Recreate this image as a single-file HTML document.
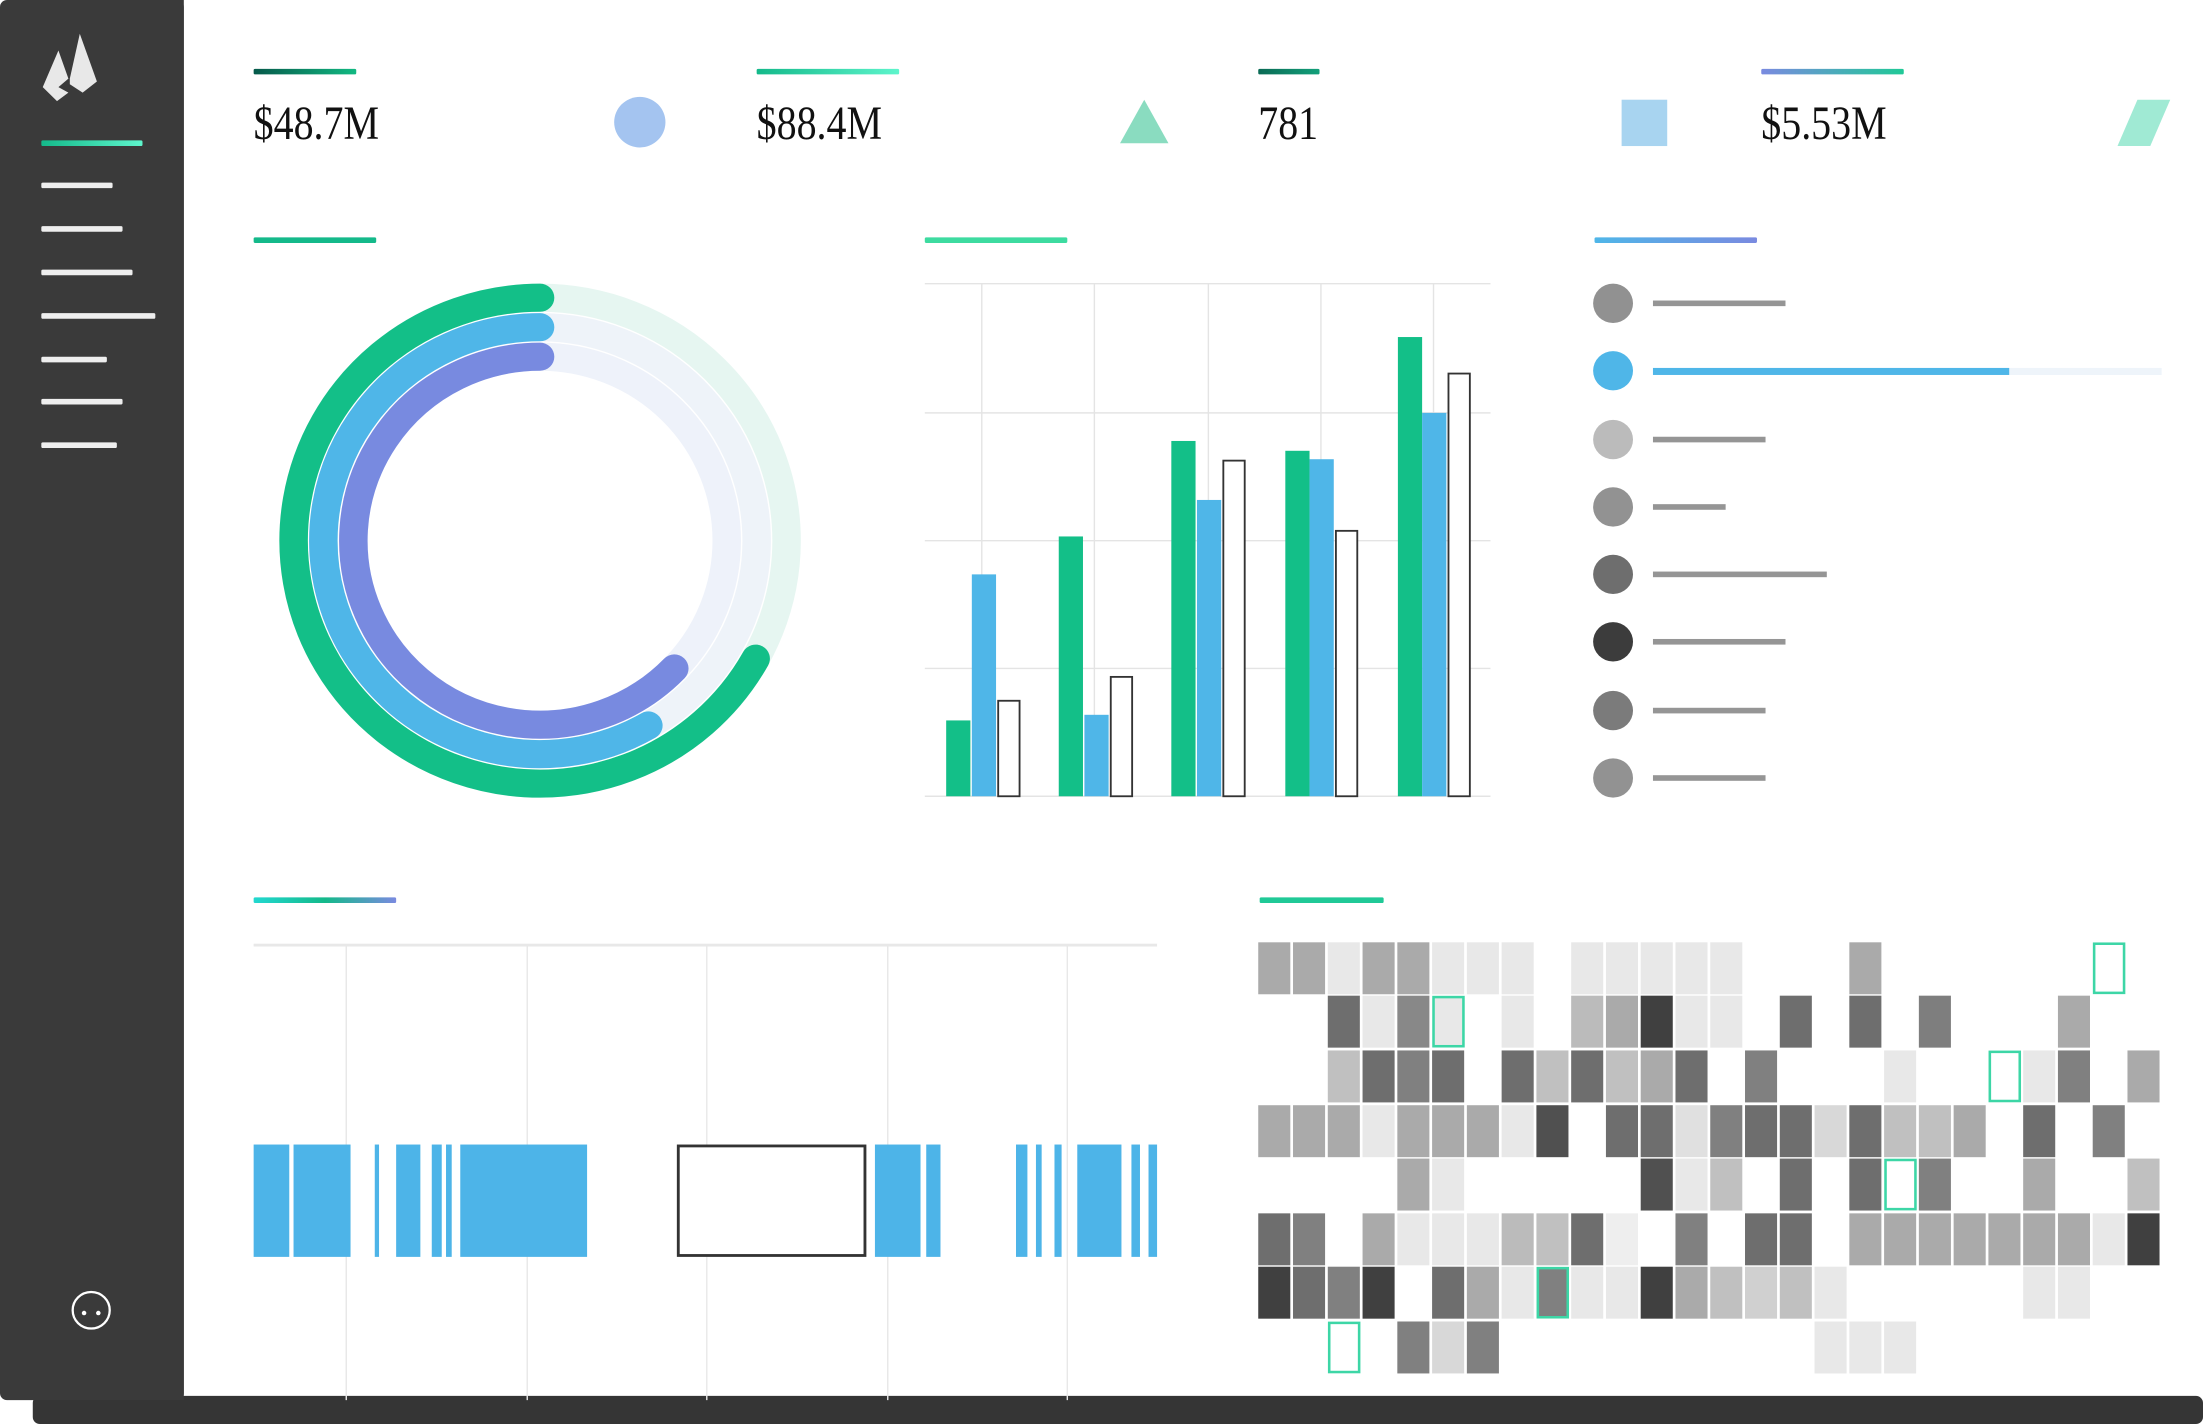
<!DOCTYPE html>
<html><head><meta charset="utf-8"><style>html,body{margin:0;padding:0;background:#fff;overflow:hidden}svg{display:block}</style></head><body>
<svg width="2203" height="1424" viewBox="0 0 1546 1014" preserveAspectRatio="none" xmlns="http://www.w3.org/2000/svg">
<defs>
<linearGradient id="g1"><stop offset="0" stop-color="#06594a"/><stop offset="1" stop-color="#12b982"/></linearGradient>
<linearGradient id="g2"><stop offset="0" stop-color="#14b98a"/><stop offset="1" stop-color="#5ef5cc"/></linearGradient>
<linearGradient id="g3"><stop offset="0" stop-color="#0a6a55"/><stop offset="1" stop-color="#13a07a"/></linearGradient>
<linearGradient id="g4"><stop offset="0" stop-color="#7a8ae0"/><stop offset="1" stop-color="#20c997"/></linearGradient>
<linearGradient id="g5"><stop offset="0" stop-color="#4fb6e8"/><stop offset="1" stop-color="#7a8ae0"/></linearGradient>
<linearGradient id="g6"><stop offset="0" stop-color="#22d8d0"/><stop offset="0.5" stop-color="#14b98a"/><stop offset="1" stop-color="#7a8ae0"/></linearGradient>
</defs>
<rect x="23" y="994" width="1523" height="20" rx="5" fill="#353535"/>
<rect x="0" y="0" width="129" height="997" rx="5" fill="#3a3a3a"/>
<rect x="120" y="0" width="9" height="997" fill="#3a3a3a"/>
<polygon points="30,62 41,36 48,56 41,62 48,66 40,72" fill="#e8e8e8"/>
<polygon points="49,56 56,24 68,58 58,66 49,60" fill="#e8e8e8"/>
<rect x="29" y="100" width="71" height="4" rx="1" fill="url(#g2)"/>
<g fill="#eeeeee">
<rect x="29" y="130" width="50" height="4" rx="1"/><rect x="29" y="161" width="57" height="4" rx="1"/>
<rect x="29" y="192" width="64" height="4" rx="1"/><rect x="29" y="223" width="80" height="4" rx="1"/>
<rect x="29" y="254" width="46" height="4" rx="1"/><rect x="29" y="284" width="57" height="4" rx="1"/>
<rect x="29" y="315" width="53" height="4" rx="1"/></g>
<circle cx="64" cy="933" r="13" fill="none" stroke="#fff" stroke-width="1.6"/>
<circle cx="59" cy="935" r="1.6" fill="#fff"/><circle cx="69" cy="935" r="1.6" fill="#fff"/>

<rect x="178" y="49" width="72" height="4" rx="1" fill="url(#g1)"/>
<rect x="531" y="49" width="100" height="4" rx="1" fill="url(#g2)"/>
<rect x="883" y="49" width="43" height="4" rx="1" fill="url(#g3)"/>
<rect x="1236" y="49" width="100" height="4" rx="1" fill="url(#g4)"/>
<g font-family="Liberation Serif, serif" font-size="34" fill="#111">
<text x="178" y="99" textLength="88" lengthAdjust="spacingAndGlyphs">$48.7M</text>
<text x="531" y="99" textLength="88" lengthAdjust="spacingAndGlyphs">$88.4M</text>
<text x="883" y="99" textLength="42" lengthAdjust="spacingAndGlyphs">781</text>
<text x="1236" y="99" textLength="88" lengthAdjust="spacingAndGlyphs">$5.53M</text></g>
<circle cx="449" cy="87" r="18" fill="#a4c4f0"/>
<polygon points="786,102 803,71 820,102" fill="#8adcc0"/>
<rect x="1138" y="71" width="32" height="33" fill="#a8d4f0"/>
<polygon points="1486,104 1500,71 1523,71 1509,104" fill="#a0ead4"/>

<rect x="178" y="169" width="86" height="4" rx="1" fill="#14b98a"/>
<rect x="649" y="169" width="100" height="4" rx="1" fill="#3ddba0"/>
<rect x="1119" y="169" width="114" height="4" rx="1" fill="url(#g5)"/>

<g fill="none" stroke-width="20" stroke-linecap="round">
<circle cx="379" cy="385" r="173" stroke="#e6f6f1" stroke-linecap="butt"/>
<circle cx="379" cy="385" r="152" stroke="#eef3f9" stroke-linecap="butt"/>
<circle cx="379" cy="385" r="131" stroke="#eef2fa" stroke-linecap="butt"/>
<path d="M379,212 A173,173 0 1 0 530.3,469" stroke="#13bf88"/>
<path d="M379,233 A152,152 0 1 0 455,516.6" stroke="#4fb6e8"/>
<path d="M379,254 A131,131 0 1 0 473.2,476" stroke="#788ae0"/>
</g>

<g stroke="#e4e4e4" stroke-width="1">
<line x1="649" y1="202" x2="1046" y2="202"/><line x1="649" y1="294" x2="1046" y2="294"/>
<line x1="649" y1="385" x2="1046" y2="385"/><line x1="649" y1="476" x2="1046" y2="476"/>
<line x1="649" y1="567" x2="1046" y2="567"/>
<line x1="689" y1="202" x2="689" y2="567"/><line x1="768" y1="202" x2="768" y2="567"/>
<line x1="848" y1="202" x2="848" y2="567"/><line x1="927" y1="202" x2="927" y2="567"/>
<line x1="1006" y1="202" x2="1006" y2="567"/></g>
<g fill="#13bf88"><rect x="664" y="513" width="17" height="54"/><rect x="743" y="382" width="17" height="185"/><rect x="822" y="314" width="17" height="253"/><rect x="902" y="321" width="17" height="246"/><rect x="981" y="240" width="17" height="327"/></g>
<g fill="#4fb6e8"><rect x="682" y="409" width="17" height="158"/><rect x="761" y="509" width="17" height="58"/><rect x="840" y="356" width="17" height="211"/><rect x="919" y="327" width="17" height="240"/><rect x="998" y="294" width="17" height="273"/></g>
<g fill="#fff" stroke="#333" stroke-width="1.3"><rect x="700.5" y="499" width="15" height="68"/><rect x="779.5" y="482" width="15" height="85"/><rect x="858.5" y="328" width="15" height="239"/><rect x="937.5" y="378" width="15" height="189"/><rect x="1016.5" y="266" width="15" height="301"/></g>

<circle cx="1132" cy="216" r="14" fill="#919191"/><circle cx="1132" cy="264" r="14" fill="#4fb6e8"/>
<circle cx="1132" cy="313" r="14" fill="#bbbbbb"/><circle cx="1132" cy="361" r="14" fill="#929292"/>
<circle cx="1132" cy="409" r="14" fill="#6e6e6e"/><circle cx="1132" cy="457" r="14" fill="#3c3c3c"/>
<circle cx="1132" cy="506" r="14" fill="#7b7b7b"/><circle cx="1132" cy="554" r="14" fill="#929292"/>
<rect x="1160" y="262" width="357" height="5" fill="#eef4fa"/>
<rect x="1160" y="262" width="250" height="5" fill="#4fb6e8"/>
<g fill="#959595"><rect x="1160" y="214" width="93" height="4"/><rect x="1160" y="311" width="79" height="4"/><rect x="1160" y="359" width="51" height="4"/><rect x="1160" y="407" width="122" height="4"/><rect x="1160" y="455" width="93" height="4"/><rect x="1160" y="504" width="79" height="4"/><rect x="1160" y="552" width="79" height="4"/></g>

<rect x="178" y="639" width="100" height="4" rx="1" fill="url(#g6)"/>
<rect x="178" y="672" width="634" height="2" fill="#e8e8e8"/>
<g stroke="#e8e8e8" stroke-width="1"><line x1="243" y1="674" x2="243" y2="997"/><line x1="370" y1="674" x2="370" y2="997"/><line x1="496" y1="674" x2="496" y2="997"/><line x1="623" y1="674" x2="623" y2="997"/><line x1="749" y1="674" x2="749" y2="997"/></g>
<g fill="#4db4e8">
<rect x="178" y="815" width="25" height="80"/><rect x="206" y="815" width="40" height="80"/><rect x="263" y="815" width="3" height="80"/><rect x="278" y="815" width="17" height="80"/><rect x="303" y="815" width="7" height="80"/><rect x="313" y="815" width="4" height="80"/><rect x="323" y="815" width="89" height="80"/>
<rect x="614" y="815" width="32" height="80"/><rect x="650" y="815" width="10" height="80"/><rect x="713" y="815" width="8" height="80"/><rect x="727" y="815" width="4" height="80"/><rect x="740" y="815" width="5" height="80"/><rect x="756" y="815" width="31" height="80"/><rect x="794" y="815" width="6" height="80"/><rect x="806" y="815" width="6" height="80"/></g>
<rect x="476" y="816" width="131" height="78" fill="#fff" stroke="#333" stroke-width="2"/>

<rect x="884" y="639" width="87" height="4" rx="1" fill="#20c997"/>
<g>
<!-- row 0 y671 -->
<rect x="883" y="671" width="22.5" height="37" fill="#aaa"/><rect x="907.4" y="671" width="22.5" height="37" fill="#aaa"/><rect x="931.8" y="671" width="22.5" height="37" fill="#e8e8e8"/><rect x="956.2" y="671" width="22.5" height="37" fill="#aaa"/><rect x="980.6" y="671" width="22.5" height="37" fill="#aaa"/><rect x="1005" y="671" width="22.5" height="37" fill="#e8e8e8"/><rect x="1029.4" y="671" width="22.5" height="37" fill="#e8e8e8"/><rect x="1053.8" y="671" width="22.5" height="37" fill="#e8e8e8"/><rect x="1102.6" y="671" width="22.5" height="37" fill="#e8e8e8"/><rect x="1127" y="671" width="22.5" height="37" fill="#e8e8e8"/><rect x="1151.4" y="671" width="22.5" height="37" fill="#e8e8e8"/><rect x="1175.8" y="671" width="22.5" height="37" fill="#e8e8e8"/><rect x="1200.2" y="671" width="22.5" height="37" fill="#e8e8e8"/><rect x="1297.8" y="671" width="22.5" height="37" fill="#aaa"/><rect x="1469.6" y="672" width="21" height="35" fill="#fff" stroke="#3dd6a6" stroke-width="1.8"/>
<!-- row 1 y709 -->
<rect x="931.8" y="709" width="22.5" height="37" fill="#6e6e6e"/><rect x="956.2" y="709" width="22.5" height="37" fill="#e8e8e8"/><rect x="980.6" y="709" width="22.5" height="37" fill="#888"/><rect x="1006" y="710" width="21" height="35" fill="#e8e8e8" stroke="#3dd6a6" stroke-width="1.8"/><rect x="1053.8" y="709" width="22.5" height="37" fill="#e8e8e8"/><rect x="1102.6" y="709" width="22.5" height="37" fill="#bbb"/><rect x="1127" y="709" width="22.5" height="37" fill="#aaa"/><rect x="1151.4" y="709" width="22.5" height="37" fill="#404040"/><rect x="1175.8" y="709" width="22.5" height="37" fill="#e8e8e8"/><rect x="1200.2" y="709" width="22.5" height="37" fill="#e8e8e8"/><rect x="1249" y="709" width="22.5" height="37" fill="#6e6e6e"/><rect x="1297.8" y="709" width="22.5" height="37" fill="#6e6e6e"/><rect x="1346.6" y="709" width="22.5" height="37" fill="#7e7e7e"/><rect x="1444.2" y="709" width="22.5" height="37" fill="#aaa"/>
<!-- row 2 y748 -->
<rect x="931.8" y="748" width="22.5" height="37" fill="#c0c0c0"/><rect x="956.2" y="748" width="22.5" height="37" fill="#6e6e6e"/><rect x="980.6" y="748" width="22.5" height="37" fill="#808080"/><rect x="1005" y="748" width="22.5" height="37" fill="#6e6e6e"/><rect x="1053.8" y="748" width="22.5" height="37" fill="#6e6e6e"/><rect x="1078.2" y="748" width="22.5" height="37" fill="#c0c0c0"/><rect x="1102.6" y="748" width="22.5" height="37" fill="#6e6e6e"/><rect x="1127" y="748" width="22.5" height="37" fill="#c0c0c0"/><rect x="1151.4" y="748" width="22.5" height="37" fill="#aaa"/><rect x="1175.8" y="748" width="22.5" height="37" fill="#6e6e6e"/><rect x="1224.6" y="748" width="22.5" height="37" fill="#808080"/><rect x="1322.2" y="748" width="22.5" height="37" fill="#e8e8e8"/><rect x="1396.4" y="749" width="21" height="35" fill="#fff" stroke="#3dd6a6" stroke-width="1.8"/><rect x="1419.8" y="748" width="22.5" height="37" fill="#e8e8e8"/><rect x="1444.2" y="748" width="22.5" height="37" fill="#808080"/><rect x="1493" y="748" width="22.5" height="37" fill="#aaa"/>
<!-- row 3 y787 -->
<rect x="883" y="787" width="22.5" height="37" fill="#aaa"/><rect x="907.4" y="787" width="22.5" height="37" fill="#aaa"/><rect x="931.8" y="787" width="22.5" height="37" fill="#aaa"/><rect x="956.2" y="787" width="22.5" height="37" fill="#e8e8e8"/><rect x="980.6" y="787" width="22.5" height="37" fill="#aaa"/><rect x="1005" y="787" width="22.5" height="37" fill="#aaa"/><rect x="1029.4" y="787" width="22.5" height="37" fill="#aaa"/><rect x="1053.8" y="787" width="22.5" height="37" fill="#e8e8e8"/><rect x="1078.2" y="787" width="22.5" height="37" fill="#505050"/><rect x="1127" y="787" width="22.5" height="37" fill="#6e6e6e"/><rect x="1151.4" y="787" width="22.5" height="37" fill="#6e6e6e"/><rect x="1175.8" y="787" width="22.5" height="37" fill="#e0e0e0"/><rect x="1200.2" y="787" width="22.5" height="37" fill="#808080"/><rect x="1224.6" y="787" width="22.5" height="37" fill="#6e6e6e"/><rect x="1249" y="787" width="22.5" height="37" fill="#6e6e6e"/><rect x="1273.4" y="787" width="22.5" height="37" fill="#d8d8d8"/><rect x="1297.8" y="787" width="22.5" height="37" fill="#6e6e6e"/><rect x="1322.2" y="787" width="22.5" height="37" fill="#c0c0c0"/><rect x="1346.6" y="787" width="22.5" height="37" fill="#c0c0c0"/><rect x="1371" y="787" width="22.5" height="37" fill="#aaa"/><rect x="1419.8" y="787" width="22.5" height="37" fill="#6e6e6e"/><rect x="1468.6" y="787" width="22.5" height="37" fill="#808080"/>
<!-- row 4 y825 -->
<rect x="980.6" y="825" width="22.5" height="37" fill="#aaa"/><rect x="1005" y="825" width="22.5" height="37" fill="#e8e8e8"/><rect x="1151.4" y="825" width="22.5" height="37" fill="#505050"/><rect x="1175.8" y="825" width="22.5" height="37" fill="#e8e8e8"/><rect x="1200.2" y="825" width="22.5" height="37" fill="#c0c0c0"/><rect x="1249" y="825" width="22.5" height="37" fill="#6e6e6e"/><rect x="1297.8" y="825" width="22.5" height="37" fill="#6e6e6e"/><rect x="1323.2" y="826" width="21" height="35" fill="#fff" stroke="#3dd6a6" stroke-width="1.8"/><rect x="1346.6" y="825" width="22.5" height="37" fill="#808080"/><rect x="1419.8" y="825" width="22.5" height="37" fill="#aaa"/><rect x="1493" y="825" width="22.5" height="37" fill="#c0c0c0"/>
<!-- row 5 y864 -->
<rect x="883" y="864" width="22.5" height="37" fill="#6e6e6e"/><rect x="907.4" y="864" width="22.5" height="37" fill="#808080"/><rect x="956.2" y="864" width="22.5" height="37" fill="#aaa"/><rect x="980.6" y="864" width="22.5" height="37" fill="#e8e8e8"/><rect x="1005" y="864" width="22.5" height="37" fill="#e8e8e8"/><rect x="1029.4" y="864" width="22.5" height="37" fill="#e8e8e8"/><rect x="1053.8" y="864" width="22.5" height="37" fill="#bbb"/><rect x="1078.2" y="864" width="22.5" height="37" fill="#c0c0c0"/><rect x="1102.6" y="864" width="22.5" height="37" fill="#6e6e6e"/><rect x="1127" y="864" width="22.5" height="37" fill="#eeeeee"/><rect x="1175.8" y="864" width="22.5" height="37" fill="#808080"/><rect x="1224.6" y="864" width="22.5" height="37" fill="#6e6e6e"/><rect x="1249" y="864" width="22.5" height="37" fill="#6e6e6e"/><rect x="1297.8" y="864" width="22.5" height="37" fill="#aaa"/><rect x="1322.2" y="864" width="22.5" height="37" fill="#aaa"/><rect x="1346.6" y="864" width="22.5" height="37" fill="#aaa"/><rect x="1371" y="864" width="22.5" height="37" fill="#aaa"/><rect x="1395.4" y="864" width="22.5" height="37" fill="#aaa"/><rect x="1419.8" y="864" width="22.5" height="37" fill="#aaa"/><rect x="1444.2" y="864" width="22.5" height="37" fill="#aaa"/><rect x="1468.6" y="864" width="22.5" height="37" fill="#e8e8e8"/><rect x="1493" y="864" width="22.5" height="37" fill="#404040"/>
<!-- row 6 y902 -->
<rect x="883" y="902" width="22.5" height="37" fill="#404040"/><rect x="907.4" y="902" width="22.5" height="37" fill="#6e6e6e"/><rect x="931.8" y="902" width="22.5" height="37" fill="#808080"/><rect x="956.2" y="902" width="22.5" height="37" fill="#404040"/><rect x="1005" y="902" width="22.5" height="37" fill="#6e6e6e"/><rect x="1029.4" y="902" width="22.5" height="37" fill="#aaa"/><rect x="1053.8" y="902" width="22.5" height="37" fill="#e8e8e8"/><rect x="1079.2" y="903" width="21" height="35" fill="#808080" stroke="#3dd6a6" stroke-width="1.8"/><rect x="1102.6" y="902" width="22.5" height="37" fill="#e8e8e8"/><rect x="1127" y="902" width="22.5" height="37" fill="#e8e8e8"/><rect x="1151.4" y="902" width="22.5" height="37" fill="#404040"/><rect x="1175.8" y="902" width="22.5" height="37" fill="#aaa"/><rect x="1200.2" y="902" width="22.5" height="37" fill="#c0c0c0"/><rect x="1224.6" y="902" width="22.5" height="37" fill="#d0d0d0"/><rect x="1249" y="902" width="22.5" height="37" fill="#c0c0c0"/><rect x="1273.4" y="902" width="22.5" height="37" fill="#e8e8e8"/><rect x="1419.8" y="902" width="22.5" height="37" fill="#e8e8e8"/><rect x="1444.2" y="902" width="22.5" height="37" fill="#e8e8e8"/>
<!-- row 7 y941 -->
<rect x="932.8" y="942" width="21" height="35" fill="#fff" stroke="#3dd6a6" stroke-width="1.8"/><rect x="980.6" y="941" width="22.5" height="37" fill="#808080"/><rect x="1005" y="941" width="22.5" height="37" fill="#d8d8d8"/><rect x="1029.4" y="941" width="22.5" height="37" fill="#808080"/><rect x="1273.4" y="941" width="22.5" height="37" fill="#e8e8e8"/><rect x="1297.8" y="941" width="22.5" height="37" fill="#e8e8e8"/><rect x="1322.2" y="941" width="22.5" height="37" fill="#e8e8e8"/>
</g>
</svg>
</body></html>
